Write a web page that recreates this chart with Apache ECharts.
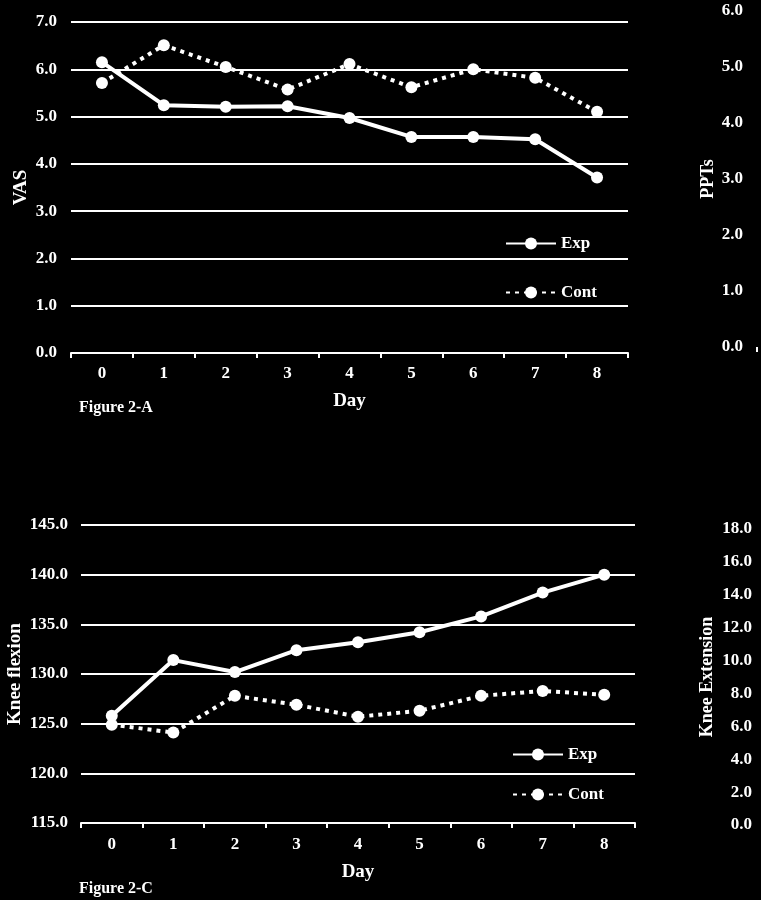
<!DOCTYPE html>
<html><head><meta charset="utf-8">
<script src="https://cdn.jsdelivr.net/npm/echarts@6/dist/echarts.min.js"></script>
<style>html,body{margin:0;padding:0;background:#000}#c{width:761px;height:900px}</style>
</head><body><div id="c"></div>
<script>
const days = ['0','1','2','3','4','5','6','7','8'];
const vasExp = [6.15,5.24,5.21,5.22,4.97,4.57,4.57,4.52,3.71];
const vasCont = [5.71,6.51,6.05,5.57,6.11,5.62,6.00,5.82,5.10];
const flexExp = [125.8,131.4,130.2,132.4,133.2,134.2,135.8,138.2,140.0];
const flexCont = [124.9,124.1,127.8,126.9,125.7,126.3,127.8,128.3,127.9];
const seriesNames = ['Exp','Cont'];

const F = 'Liberation Serif';
const W = '#ffffff';
const txt = (size) => ({color: W, fontFamily: F, fontWeight: 'bold', fontSize: size});
const fmt = v => v.toFixed(1);

function xAx(grid, nameGap, margin, showLine) {
  return {
    gridIndex: grid, type: 'category', data: days, boundaryGap: true,
    axisLine: {show: showLine, lineStyle: {color: W, width: 2}},
    axisTick: {show: true, length: 5, lineStyle: {color: W, width: 2}},
    axisLabel: Object.assign({margin: margin, show: showLine}, txt(17)),
    name: showLine ? 'Day' : '', nameLocation: 'middle', nameGap: nameGap,
    nameMoveOverlap: false,
    nameTextStyle: txt(19)
  };
}
function yAx(grid, min, max, interval, name, nameGap, margin, split, nsize) {
  return {
    gridIndex: grid, type: 'value', min: min, max: max, interval: interval,
    axisLine: {show: false}, axisTick: {show: false},
    splitLine: {show: split, lineStyle: {color: W, width: 2}},
    axisLabel: Object.assign({margin: margin, formatter: fmt}, txt(17)),
    name: name, nameLocation: 'middle', nameGap: nameGap, nameRotate: 90,
    nameMoveOverlap: false,
    nameTextStyle: txt(nsize)
  };
}
function ser(name, data, xi, yi, dashed) {
  return {
    name: name, type: 'line', xAxisIndex: xi, yAxisIndex: yi, data: data,
    symbol: 'circle', symbolSize: 12, showSymbol: true,
    lineStyle: {color: W, width: 4, type: dashed ? [4, 5] : 'solid', cap: 'butt'},
    itemStyle: {color: W},
    animation: false
  };
}

const chart = echarts.init(document.getElementById('c'));
chart.setOption({
  backgroundColor: '#000',
  animation: false,
  grid: [
    {left: 71, top: 22, width: 557, height: 331, outerBoundsMode: 'none', containLabel: false},
    {left: 757, top: 11, width: 557, height: 336, outerBoundsMode: 'none', containLabel: false},
    {left: 81, top: 525, width: 554, height: 298, outerBoundsMode: 'none', containLabel: false},
    {left: 766, top: 529, width: 554, height: 296, outerBoundsMode: 'none', containLabel: false}
  ],
  xAxis: [
    xAx(0, 39, 12, true),
    Object.assign(xAx(1, 38, 12, false), {axisLine: {show: false}}),
    xAx(2, 40, 13, true),
    Object.assign(xAx(3, 38, 12, false), {axisLine: {show: false}, axisTick: {show: false}})
  ],
  yAxis: [
    yAx(0, 0, 7, 1, 'VAS', 40, 14, true, 19),
    yAx(1, 0, 6, 1, 'PPTs', 40, 14, false, 18),
    yAx(2, 115, 145, 5, 'Knee flexion', 56, 13, true, 19),
    yAx(3, 0, 18, 2, 'Knee Extension', 50, 14, false, 18)
  ],
  title: [
    {text: 'Figure 2-A', left: 79, top: 400, padding: 0, textStyle: txt(16)},
    {text: 'Figure 2-C', left: 79, top: 881, padding: 0, textStyle: txt(16)}
  ],
  legend: [
    {data: seriesNames, orient: 'vertical', left: 505, top: 235, itemGap: 32, itemWidth: 50, itemHeight: 15,
     padding: 0, selectedMode: false, textStyle: Object.assign({lineHeight: 16}, txt(17))},
    {data: seriesNames, orient: 'vertical', left: 512, top: 746, itemGap: 23, itemWidth: 50, itemHeight: 15,
     padding: 0, selectedMode: false, textStyle: Object.assign({lineHeight: 16}, txt(17))}
  ],
  series: [
    ser('Exp', vasExp, 0, 0, false),
    ser('Cont', vasCont, 0, 0, true),
    ser('Exp', flexExp, 2, 2, false),
    ser('Cont', flexCont, 2, 2, true)
  ]
});
</script></body></html>
